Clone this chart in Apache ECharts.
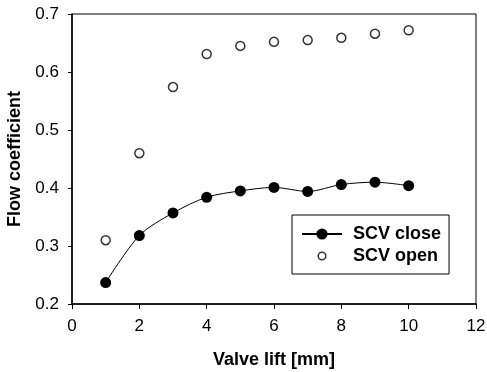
<!DOCTYPE html>
<html><head><meta charset="utf-8">
<script src="https://cdn.jsdelivr.net/npm/echarts@6/dist/echarts.min.js"></script>
<style>html,body{margin:0;padding:0;background:#fff}#c{width:487px;height:372px}</style>
</head><body><div id="c"></div>
<script>
var lift = [1,2,3,4,5,6,7,8,9,10];
var scvClose = [0.237,0.318,0.357,0.384,0.395,0.401,0.394,0.406,0.410,0.404];
var scvOpen = [0.310,0.460,0.574,0.631,0.645,0.652,0.655,0.659,0.666,0.672];
var xTicks = [0,2,4,6,8,10,12];
var yTicks = [0.2,0.3,0.4,0.5,0.6,0.7];

function pairs(xs, ys){ return xs.map(function(x,i){return [x, ys[i]];}); }
var font = 'Liberation Sans, Arial, sans-serif';
var openIcon = 'path://M0,0L0,0M20,20L20,20M4.6,10A5.4,5.4,0,1,1,15.4,10A5.4,5.4,0,1,1,4.6,10Z';
var chart = echarts.init(document.getElementById('c'));
chart.setOption({
  animation:false,
  backgroundColor:'#fff',
  grid:{left:72,right:11,top:14,bottom:68,outerBoundsMode:'none',containLabel:false,
    show:true,borderColor:'#000',borderWidth:1,backgroundColor:'transparent'},
  xAxis:{type:'value',min:xTicks[0],max:xTicks[xTicks.length-1],interval:2,
    name:'Valve lift [mm]',nameLocation:'middle',nameGap:47,
    nameTextStyle:{fontFamily:font,fontWeight:'bold',fontSize:18,color:'#000'},
    axisLine:{lineStyle:{color:'#000',width:1.5}},
    axisTick:{show:true,length:5,lineStyle:{color:'#000'}},
    axisLabel:{fontFamily:font,fontSize:17,color:'#000',margin:14},
    splitLine:{show:false}},
  yAxis:{type:'value',min:yTicks[0],max:yTicks[yTicks.length-1],interval:0.1,
    name:'Flow coefficient',nameLocation:'middle',nameGap:47,
    nameTextStyle:{fontFamily:font,fontWeight:'bold',fontSize:18,color:'#000'},
    axisLine:{lineStyle:{color:'#000',width:1.5}},
    axisTick:{show:true,length:4,lineStyle:{color:'#000'}},
    axisLabel:{fontFamily:font,fontSize:17,color:'#000',margin:13,formatter:function(v){return v.toFixed(1);}},
    splitLine:{show:false}},
  legend:{left:292,top:215,orient:'vertical',itemWidth:40,itemHeight:14,itemGap:4,
    padding:[10,8,9,9],borderColor:'#000',borderWidth:1,backgroundColor:'#fff',
    textStyle:{fontFamily:font,fontWeight:'bold',fontSize:18,lineHeight:18,color:'#000',padding:[0,0,0,6]},
    data:[{name:'SCV close'},{name:'SCV open',icon:openIcon,itemStyle:{color:'#fff',borderColor:'#000',borderWidth:1.5}}]},
  series:[
    {name:'SCV close',type:'line',data:pairs(lift,scvClose),smooth:0.3,
      symbol:'circle',symbolSize:11,itemStyle:{color:'#000'},lineStyle:{color:'#000',width:1}},
    {name:'SCV open',type:'scatter',data:pairs(lift,scvOpen),
      symbol:'circle',symbolSize:9,itemStyle:{color:'#fff',borderColor:'#000',borderWidth:1.5}}
  ]
});
</script></body></html>
